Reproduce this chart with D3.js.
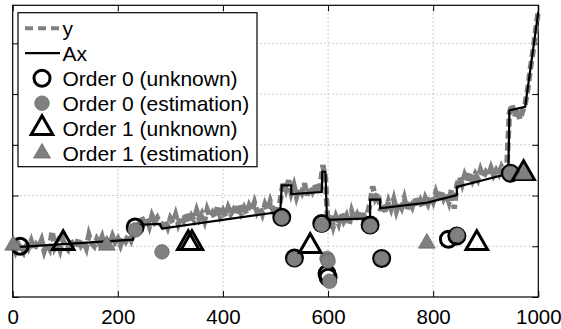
<!DOCTYPE html>
<html>
<head>
<meta charset="utf-8">
<script src="https://cdn.jsdelivr.net/npm/d3@7"></script>
<style>
  body { margin: 0; background: #fff; }
  text { font-family: "Liberation Sans", Arial, Helvetica, sans-serif; }
</style>
</head>
<body>
<div id="chart"></div>
<script>
// x ticks shown on the bottom axis
const xTicks = [0, 200, 400, 600, 800, 1000];
// y ticks (no labels drawn)
const yTicks = [0, 1, 2, 3, 4, 5];

// measured signal y, sampled every 5 units from 0 to 1000
const ySignal = [
  1.02, 0.90, 1.05, 0.95, 0.88, 1.08, 0.97, 1.10, 0.92, 1.04,
  0.99, 1.12, 0.91, 1.06, 0.96, 1.30, 0.98, 1.08, 0.93, 1.14,
  1.00, 0.94, 1.12, 1.03, 0.95, 1.16, 1.02, 1.10, 0.97, 1.22,
  1.06, 1.00, 1.14, 1.05, 1.18, 0.99, 1.10, 1.04, 1.20, 1.08,
  1.15, 1.02, 1.18, 1.10, 1.22, 1.12,
  1.30, 1.50, 1.42, 1.58, 1.46, 1.55, 1.40, 1.60, 1.48, 1.56, 1.45,
  1.40, 1.52, 1.38, 1.55, 1.46, 1.62, 1.44, 1.58, 1.50, 1.66,
  1.48, 1.60, 1.52, 1.70, 1.54, 1.64, 1.50, 1.72, 1.58, 1.66,
  1.56, 1.80, 1.60, 1.70, 1.58, 1.76, 1.64, 1.72, 1.62, 1.84,
  1.66, 1.76, 1.64, 1.80, 1.70, 1.86, 1.68, 1.78, 1.64, 1.82,
  1.70, 1.88, 1.72, 1.80, 1.68,
  1.95, 2.28, 2.12, 2.30,
  2.05, 2.20, 1.98, 2.15, 2.06, 2.24, 2.00, 2.18, 2.08, 2.22, 2.04, 2.16,
  2.60, 2.35,
  1.35, 1.62, 1.40, 1.58, 1.45, 1.66, 1.50, 1.60, 1.42, 1.68,
  1.52, 1.62, 1.48, 1.70, 1.55, 1.64,
  1.85, 2.18, 1.95, 2.05,
  1.70, 1.85, 1.66, 1.88, 1.74, 1.92, 1.70, 1.86, 1.76, 1.94,
  1.72, 1.88, 1.78, 1.96, 1.80, 1.90, 1.76, 1.95,
  1.84, 2.00, 1.88, 2.06, 1.90, 2.10, 1.94, 2.04, 1.88, 2.12, 1.74,
  2.20, 2.36, 2.22, 2.40, 2.28, 2.46, 2.30, 2.42, 2.32, 2.50,
  2.36, 2.46, 2.38, 2.54, 2.40, 2.50, 2.42, 2.56, 2.46, 2.52,
  3.62, 3.80, 3.55, 3.72, 3.50, 3.66,
  3.80, 4.10, 4.50, 4.85, 5.25, 5.65
];
const ySignalX = d3.range(0, 1001, 5);

// model output Ax (piecewise)
const axX = [0, 229, 233, 280, 284, 509, 512, 530, 530, 588, 589, 595, 598, 680, 680, 699, 699, 789, 845, 845, 943, 945, 975, 1000];
const axY = [0.98, 1.13, 1.42, 1.44, 1.35, 1.68, 2.20, 2.20, 2.03, 2.07, 2.47, 2.47, 1.52, 1.55, 1.92, 1.92, 1.75, 1.86, 2.01, 2.17, 2.43, 3.68, 3.75, 5.62];

// Order 0 (unknown)
const o0uX = [14, 233, 512, 588, 680, 536, 598, 600, 702, 829, 845, 947];
const o0uY = [1.00, 1.38, 1.57, 1.45, 1.42, 0.77, 0.46, 0.39, 0.76, 1.14, 1.20, 2.44];
// Order 0 (estimation)
const o0eX = [233, 284, 512, 588, 680, 536, 598, 600, 603, 702, 846, 947];
const o0eY = [1.32, 0.89, 1.56, 1.42, 1.40, 0.75, 0.76, 0.71, 0.31, 0.76, 1.22, 2.44];
// Order 1 (unknown)
const o1uX = [96, 334, 341, 566, 883, 972];
const o1uY = [1.06, 1.06, 1.06, 1.00, 1.06, 2.44];
// Order 1 (estimation)
const o1eX = [1, 179, 788, 972];
const o1eY = [1.02, 1.02, 1.06, 2.42];

const legendLabels = ['y', 'Ax', 'Order 0 (unknown)', 'Order 0 (estimation)', 'Order 1 (unknown)', 'Order 1 (estimation)'];

const W = 561, H = 329;
const margin = { top: 5.3, right: 22.7, bottom: 32, left: 12.7 };
const width = W - margin.left - margin.right;
const height = H - margin.top - margin.bottom;
const gray = '#808080';

const svg = d3.select('#chart').append('svg')
  .attr('width', W).attr('height', H);
const g = svg.append('g')
  .attr('transform', `translate(${margin.left},${margin.top})`);

const x = d3.scaleLinear().domain([0, 1000]).range([0, width]);
const y = d3.scaleLinear().domain([0, 5.75]).range([height, 0]);

// grid
g.append('g').selectAll('line')
  .data(xTicks.filter(d => d > 0 && d < 1000))
  .enter().append('line')
  .attr('x1', d => x(d)).attr('x2', d => x(d))
  .attr('y1', 0).attr('y2', height)
  .attr('stroke', '#999').attr('stroke-width', 1).attr('stroke-dasharray', '1,3');
g.append('g').selectAll('line')
  .data(yTicks.filter(d => d > 0))
  .enter().append('line')
  .attr('y1', d => y(d)).attr('y2', d => y(d))
  .attr('x1', 0).attr('x2', width)
  .attr('stroke', '#999').attr('stroke-width', 1).attr('stroke-dasharray', '1,3');

// axes (ticks inward, box)
const tk = 6;
const xb = g.append('g').attr('transform', `translate(0,${height})`)
  .call(d3.axisBottom(x).tickValues(xTicks).tickSize(-tk).tickPadding(12).tickFormat(d3.format('d')));
xb.select('.domain').remove();
xb.selectAll('text').attr('font-size', '20.5px').attr('fill', '#000')
  .style('font-family', '"Liberation Sans", Arial, sans-serif');
const xt = g.append('g')
  .call(d3.axisTop(x).tickValues(xTicks).tickSize(-tk).tickFormat(''));
xt.select('.domain').remove();
const yl = g.append('g')
  .call(d3.axisLeft(y).tickValues(yTicks).tickSize(-tk).tickFormat(''));
yl.select('.domain').remove();
const yr = g.append('g').attr('transform', `translate(${width},0)`)
  .call(d3.axisRight(y).tickValues(yTicks).tickSize(-tk).tickFormat(''));
yr.select('.domain').remove();
g.selectAll('.tick line').attr('stroke', '#000');
g.append('rect').attr('width', width).attr('height', height)
  .attr('fill', 'none').attr('stroke', '#000').attr('stroke-width', 1.2);

// y signal
const line = d3.line().x(d => x(d[0])).y(d => y(d[1]));
g.append('path')
  .datum(ySignalX.map((d, i) => [d, ySignal[i]]))
  .attr('d', line)
  .attr('fill', 'none').attr('stroke', gray).attr('stroke-width', 5.5)
  .attr('stroke-dasharray', '8,4');

// Ax
g.append('path')
  .datum(axX.map((d, i) => [d, axY[i]]))
  .attr('d', line)
  .attr('fill', 'none').attr('stroke', '#000').attr('stroke-width', 2.2);

const triBig = d3.symbol().type(d3.symbolTriangle).size(200)();
const triSmall = d3.symbol().type(d3.symbolTriangle).size(125)();

function openCircle(sel) {
  sel.attr('r', 8).attr('fill', 'none').attr('stroke', '#000').attr('stroke-width', 3);
}
function grayCircle(sel) {
  sel.attr('r', 7.3).attr('fill', gray).attr('stroke', '#555').attr('stroke-width', 0.6);
}

g.append('g').selectAll('circle')
  .data(o0uX.map((d, i) => [d, o0uY[i]]))
  .enter().append('circle')
  .attr('cx', d => x(d[0])).attr('cy', d => y(d[1]))
  .call(openCircle);
g.append('g').selectAll('circle')
  .data(o0eX.map((d, i) => [d, o0eY[i]]))
  .enter().append('circle')
  .attr('cx', d => x(d[0])).attr('cy', d => y(d[1]))
  .call(grayCircle);
g.append('g').selectAll('path')
  .data(o1uX.map((d, i) => [d, o1uY[i]]))
  .enter().append('path')
  .attr('d', triBig)
  .attr('transform', d => `translate(${x(d[0])},${y(d[1])})`)
  .attr('fill', 'none').attr('stroke', '#000').attr('stroke-width', 3);
g.append('g').selectAll('path')
  .data(o1eX.map((d, i) => [d, o1eY[i]]))
  .enter().append('path')
  .attr('d', triSmall)
  .attr('transform', d => `translate(${x(d[0])},${y(d[1])})`)
  .attr('fill', gray).attr('stroke', '#555').attr('stroke-width', 0.6);

// legend
const lg = svg.append('g').attr('transform', 'translate(18,12.7)');
lg.append('rect').attr('width', 239).attr('height', 154)
  .attr('fill', '#fff').attr('stroke', '#000').attr('stroke-width', 1.2);
const rowY = i => 15.5 + i * 25;
const mx = 24;
lg.append('line').attr('x1', 7).attr('x2', 42).attr('y1', rowY(0)).attr('y2', rowY(0))
  .attr('stroke', gray).attr('stroke-width', 4).attr('stroke-dasharray', '8,5');
lg.append('line').attr('x1', 7).attr('x2', 42).attr('y1', rowY(1)).attr('y2', rowY(1))
  .attr('stroke', '#000').attr('stroke-width', 2.2);
lg.append('circle').attr('cx', mx).attr('cy', rowY(2)).call(openCircle);
lg.append('circle').attr('cx', mx).attr('cy', rowY(3)).call(grayCircle);
lg.append('path').attr('d', triBig).attr('transform', `translate(${mx},${rowY(4)})`)
  .attr('fill', 'none').attr('stroke', '#000').attr('stroke-width', 3);
lg.append('path').attr('d', triSmall).attr('transform', `translate(${mx},${rowY(5)})`)
  .attr('fill', gray).attr('stroke', '#555').attr('stroke-width', 0.6);
lg.selectAll('text.lab')
  .data(legendLabels)
  .enter().append('text')
  .attr('class', 'lab')
  .attr('x', 44.5)
  .attr('y', (d, i) => rowY(i))
  .attr('dy', '0.35em')
  .attr('font-size', '21px')
  .text(d => d);
</script>
</body>
</html>
